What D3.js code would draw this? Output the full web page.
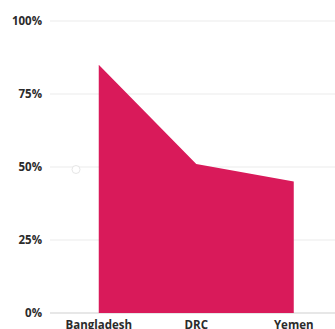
<!DOCTYPE html>
<html>
<head>
<meta charset="utf-8">
<script src="https://cdn.jsdelivr.net/npm/d3@7"></script>
<style>
  html, body { margin: 0; padding: 0; background: #fff; overflow: hidden; }
  svg { display: block; }
  text { font-family: "Open Sans", "Lato", sans-serif; }
</style>
</head>
<body>
<svg id="chart" width="335" height="329"></svg>
<script>
const categories = ["Bangladesh", "DRC", "Yemen"];
const values = [85, 51, 45];
const yTicks = [0, 25, 50, 75, 100];
const yTickLabels = ["0%", "25%", "50%", "75%", "100%"];

const svg = d3.select("#chart");
const margin = { left: 50, top: 21, bottom: 313 };

const x = d3.scalePoint().domain(categories).range([50, 342.5]).padding(0.5);
const y = d3.scaleLinear().domain([0, 100]).range([313, 21]);

// gridlines
svg.append("g").selectAll("line").data(yTicks).join("line")
  .attr("x1", 50).attr("x2", 335)
  .attr("y1", d => y(d)).attr("y2", d => y(d))
  .attr("stroke", d => d === 0 ? "#d0d0d0" : "#ececec")
  .attr("stroke-width", 1.2);

// y labels
svg.append("g").selectAll("text").data(yTicks).join("text")
  .attr("x", 42).attr("y", d => y(d))
  .attr("dy", "0.35em")
  .attr("text-anchor", "end")
  .attr("font-size", 11.5).attr("font-weight", 700)
  .attr("fill", "#2b2b2b")
  .text((d, i) => yTickLabels[i]);

// area
const data = categories.map((c, i) => ({ c, v: values[i] }));
const area = d3.area().x(d => x(d.c)).y0(y(0)).y1(d => y(d.v));
svg.append("path").datum(data).attr("d", area).attr("fill", "#d91a5a");

// stray hover marker
svg.append("circle").attr("cx", 76).attr("cy", y(50) + 2.5).attr("r", 4)
  .attr("fill", "#fff").attr("stroke", "#e6e6e6").attr("stroke-width", 1);

// x labels
svg.append("g").selectAll("text").data(categories).join("text")
  .attr("x", d => x(d)).attr("y", 329)
  .attr("text-anchor", "middle")
  .attr("font-size", 11.5).attr("font-weight", 700)
  .attr("fill", "#2b2b2b")
  .text(d => d);
</script>
</body>
</html>
